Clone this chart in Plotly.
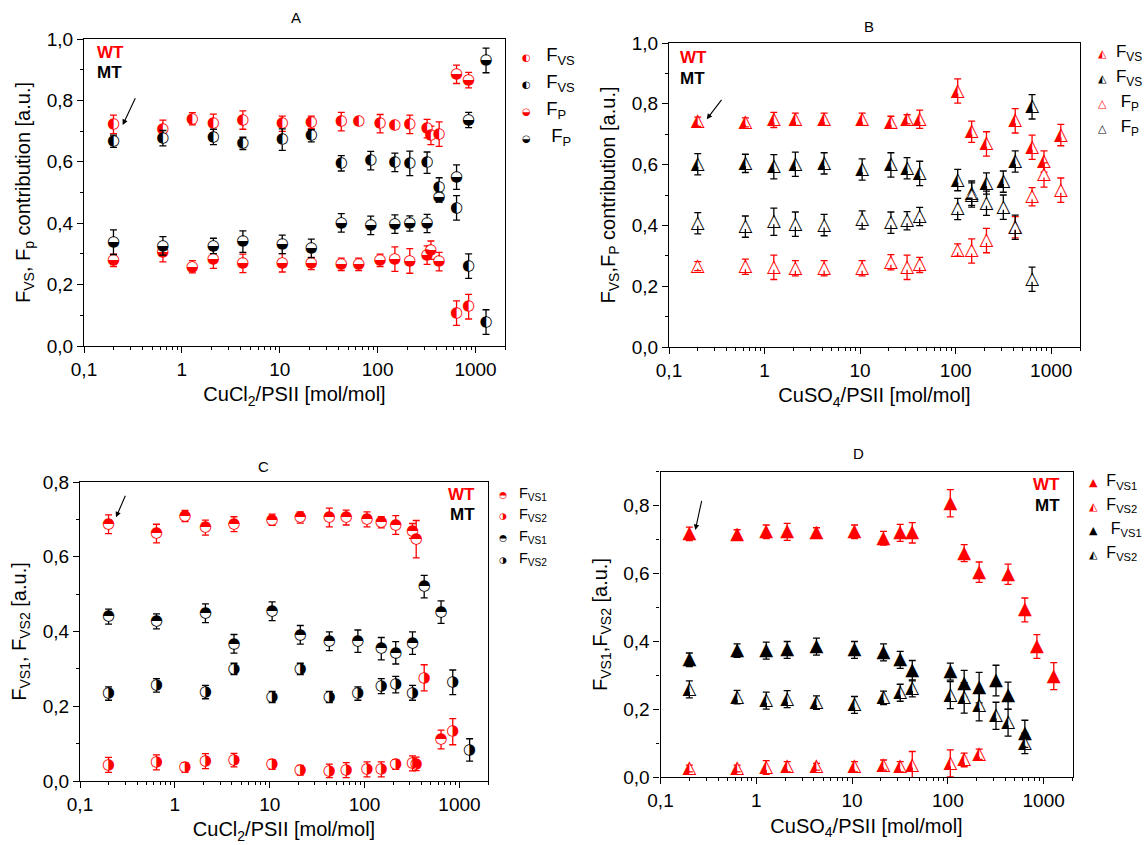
import plotly.graph_objects as go

W, H = 1146, 845
RED = "#ff0000"
BLK = "#000000"

# ---------------- Panel A (CuCl2, F_VS / F_P) ----------------
A_wt_x = [0.2, 0.64, 1.28, 2.1, 4.2, 10.6, 21, 42.5, 64, 106, 150, 213, 320, 350, 425, 640, 850]
A_wt_vs = [0.722, 0.706, 0.740, 0.725, 0.736, 0.724, 0.729, 0.731, 0.731, 0.724, 0.718, 0.722, 0.708, 0.686, 0.690, 0.107, 0.128]
A_wt_vs_err = [0.03, 0.03, 0.02, 0.03, 0.03, 0.025, 0.02, 0.03, 0.01, 0.03, 0.01, 0.03, 0.03, 0.03, 0.04, 0.04, 0.04]
A_wt_p = [0.279, 0.304, 0.258, 0.283, 0.269, 0.271, 0.269, 0.266, 0.266, 0.279, 0.283, 0.277, 0.296, 0.312, 0.275, 0.885, 0.866]
A_wt_p_err = [0.02, 0.03, 0.02, 0.03, 0.03, 0.03, 0.02, 0.02, 0.02, 0.02, 0.04, 0.04, 0.03, 0.03, 0.03, 0.03, 0.025]
A_mt_x = [0.2, 0.64, 2.1, 4.2, 10.6, 21, 42.5, 85, 150, 213, 320, 425, 640, 850, 1280]
A_mt_vs = [0.667, 0.677, 0.681, 0.660, 0.672, 0.685, 0.595, 0.604, 0.598, 0.595, 0.597, 0.518, 0.45, 0.26, 0.078]
A_mt_vs_err = [0.02, 0.025, 0.025, 0.02, 0.035, 0.02, 0.025, 0.03, 0.03, 0.04, 0.035, 0.03, 0.04, 0.04, 0.04]
A_mt_p = [0.338, 0.326, 0.326, 0.340, 0.331, 0.318, 0.401, 0.393, 0.397, 0.399, 0.399, 0.483, 0.55, 0.736, 0.93]
A_mt_p_err = [0.04, 0.03, 0.025, 0.035, 0.03, 0.03, 0.03, 0.03, 0.03, 0.025, 0.03, 0.015, 0.04, 0.025, 0.04]

# ---------------- Panel B (CuSO4, F_VS / F_P) ----------------
B_wt_x = [0.2, 0.63, 1.25, 2.1, 4.2, 10.5, 21, 31, 42, 105, 147, 210, 420, 630, 840, 1260]
B_wt_vs = [0.741, 0.739, 0.747, 0.749, 0.749, 0.749, 0.739, 0.749, 0.749, 0.842, 0.708, 0.668, 0.744, 0.657, 0.610, 0.697]
B_wt_vs_err = [0.015, 0.015, 0.025, 0.02, 0.02, 0.02, 0.02, 0.015, 0.03, 0.04, 0.035, 0.04, 0.04, 0.04, 0.035, 0.035]
B_wt_p = [0.266, 0.264, 0.262, 0.259, 0.259, 0.259, 0.279, 0.262, 0.270, 0.319, 0.316, 0.35, 0.394, 0.494, 0.566, 0.516]
B_wt_p_err = [0.015, 0.025, 0.04, 0.025, 0.025, 0.025, 0.025, 0.04, 0.025, 0.02, 0.04, 0.04, 0.035, 0.03, 0.04, 0.04]
B_mt_x = [0.2, 0.63, 1.25, 2.1, 4.2, 10.5, 21, 31, 42, 105, 147, 210, 315, 420, 630]
B_mt_vs = [0.601, 0.604, 0.593, 0.601, 0.604, 0.584, 0.599, 0.588, 0.571, 0.549, 0.506, 0.538, 0.544, 0.61, 0.79]
B_mt_vs_err = [0.035, 0.03, 0.04, 0.04, 0.035, 0.035, 0.04, 0.035, 0.04, 0.035, 0.04, 0.035, 0.035, 0.035, 0.04]
B_mt_p = [0.407, 0.396, 0.412, 0.404, 0.401, 0.418, 0.409, 0.415, 0.429, 0.454, 0.50, 0.473, 0.46, 0.394, 0.223]
B_mt_p_err = [0.035, 0.035, 0.045, 0.04, 0.035, 0.03, 0.035, 0.03, 0.03, 0.035, 0.04, 0.04, 0.04, 0.04, 0.04]

# ---------------- Panel C (CuCl2, F_VS1 / F_VS2) ----------------
C_wt_vs1_x = [0.2, 0.64, 1.28, 2.1, 4.2, 10.6, 21, 42.5, 64, 106, 150, 213, 320, 350, 640]
C_wt_vs1 = [0.687, 0.662, 0.709, 0.678, 0.687, 0.699, 0.705, 0.705, 0.705, 0.70, 0.692, 0.685, 0.669, 0.647, 0.111]
C_wt_vs1_err = [0.025, 0.025, 0.015, 0.02, 0.02, 0.015, 0.015, 0.025, 0.02, 0.02, 0.015, 0.025, 0.02, 0.05, 0.025]
C_wt_vs2_x = [0.2, 0.64, 1.28, 2.1, 4.2, 10.6, 21, 42.5, 64, 106, 150, 213, 320, 350, 425, 850]
C_wt_vs2 = [0.043, 0.05, 0.036, 0.053, 0.056, 0.044, 0.029, 0.027, 0.029, 0.031, 0.031, 0.044, 0.047, 0.046, 0.276, 0.132]
C_wt_vs2_err = [0.02, 0.02, 0.013, 0.02, 0.018, 0.013, 0.013, 0.018, 0.02, 0.02, 0.02, 0.013, 0.02, 0.018, 0.035, 0.035]
C_mt_vs1_x = [0.2, 0.64, 2.1, 4.2, 10.6, 21, 42.5, 85, 150, 213, 320, 425, 640]
C_mt_vs1 = [0.44, 0.427, 0.449, 0.367, 0.454, 0.391, 0.374, 0.374, 0.354, 0.343, 0.369, 0.52, 0.452]
C_mt_vs1_err = [0.02, 0.02, 0.025, 0.025, 0.025, 0.025, 0.025, 0.03, 0.03, 0.03, 0.03, 0.03, 0.03]
C_mt_vs2_x = [0.2, 0.64, 2.1, 4.2, 10.6, 21, 42.5, 85, 150, 213, 320, 850, 1280]
C_mt_vs2 = [0.234, 0.256, 0.238, 0.30, 0.225, 0.30, 0.225, 0.234, 0.254, 0.258, 0.236, 0.264, 0.083]
C_mt_vs2_err = [0.018, 0.018, 0.018, 0.015, 0.015, 0.015, 0.015, 0.018, 0.02, 0.022, 0.02, 0.033, 0.03]

# ---------------- Panel D (CuSO4, F_VS1 / F_VS2) ----------------
D_wt_vs1_x = [0.2, 0.63, 1.27, 2.1, 4.25, 10.6, 21.3, 31.8, 42.5, 106, 148, 212, 425, 636, 850, 1275]
D_wt_vs1 = [0.717, 0.714, 0.723, 0.723, 0.72, 0.723, 0.704, 0.72, 0.72, 0.807, 0.66, 0.604, 0.598, 0.493, 0.385, 0.298]
D_wt_vs1_err = [0.02, 0.015, 0.02, 0.025, 0.015, 0.02, 0.02, 0.025, 0.03, 0.04, 0.025, 0.03, 0.03, 0.035, 0.035, 0.04]
D_wt_vs2_x = [0.2, 0.63, 1.27, 2.1, 4.25, 10.6, 21.3, 31.8, 42.5, 106, 148, 212]
D_wt_vs2 = [0.026, 0.026, 0.029, 0.031, 0.031, 0.031, 0.036, 0.031, 0.036, 0.041, 0.051, 0.068]
D_wt_vs2_err = [0.01, 0.01, 0.02, 0.015, 0.01, 0.015, 0.015, 0.015, 0.04, 0.04, 0.02, 0.015]
D_mt_x = [0.2, 0.63, 1.27, 2.1, 4.25, 10.6, 21.3, 31.8, 42.5, 106, 148, 212, 318, 425, 636]
D_mt_vs1 = [0.346, 0.373, 0.373, 0.375, 0.385, 0.375, 0.368, 0.346, 0.314, 0.311, 0.275, 0.264, 0.285, 0.24, 0.128]
D_mt_vs1_err = [0.02, 0.02, 0.025, 0.025, 0.025, 0.025, 0.025, 0.025, 0.03, 0.025, 0.04, 0.045, 0.045, 0.04, 0.04]
D_mt_vs2 = [0.259, 0.236, 0.226, 0.23, 0.22, 0.213, 0.234, 0.249, 0.262, 0.242, 0.234, 0.211, 0.181, 0.161, 0.10]
D_mt_vs2_err = [0.025, 0.02, 0.025, 0.025, 0.02, 0.025, 0.02, 0.025, 0.025, 0.04, 0.045, 0.045, 0.04, 0.04, 0.03]

# tick labels
x_tickvals = [0.1, 1, 10, 100, 1000]
x_ticktext = ["0,1", "1", "10", "100", "1000"]
yAB_tickvals = [0, 0.2, 0.4, 0.6, 0.8, 1.0]
yAB_ticktext = ["0,0", "0,2", "0,4", "0,6", "0,8", "1,0"]
yCD_tickvals = [0, 0.2, 0.4, 0.6, 0.8]
yCD_ticktext = ["0,0", "0,2", "0,4", "0,6", "0,8"]

FONT = "Liberation Sans, Arial, DejaVu Sans, sans-serif"
GLYPH_FONT = "DejaVu Sans"

# half-filled symbols (glyphs)
G_LEFT = "\u25D0"      # circle, left half filled
G_RIGHT = "\u25D1"     # circle, right half filled
G_BOTTOM = "\u25D2"    # circle, lower half filled
G_TOP = "\u25D3"       # circle, upper half filled
T_LEFT = "\u25ED"      # triangle, left half filled
T_OPEN = "\u25B3"      # open triangle
T_FULL = "\u25B2"      # filled triangle


def px2x(p):
    return p / W


def px2y(p):
    return 1 - p / H


fig = go.Figure()


def add(x, y, err, color, glyph, ax, circle=True):
    fig.add_trace(go.Scatter(
        x=x, y=y, mode="markers+text", showlegend=False,
        xaxis="x" + ax, yaxis="y" + ax,
        text=[glyph] * len(x), textposition="middle center",
        textfont=dict(family=GLYPH_FONT, size=15 if circle else 18, color=color),
        marker=dict(symbol="circle" if circle else "triangle-up", size=10,
                    color="white", line=dict(width=0)),
        error_y=dict(type="data", array=err, color=color, thickness=1.3, width=3.5),
        hoverinfo="x+y",
    ))


def add_legend(glyph, color, label, ax, legend, fs, gap="   "):
    name = ("<span style='font-family:DejaVu Sans;font-size:%dpx;color:%s'>%s</span>%s%s"
            % (fs, color, glyph, gap, label))
    fig.add_trace(go.Scatter(
        x=[None], y=[None], mode="markers", name=name, legend=legend, legendgroup=name + legend,
        xaxis="x" + ax, yaxis="y" + ax,
        marker=dict(size=1, color="rgba(0,0,0,0)", opacity=0),
    ))


FVS = "F<sub>VS</sub>"
FP = "F<sub>P</sub>"
FVS1 = "F<sub>VS1</sub>"
FVS2 = "F<sub>VS2</sub>"

# Panel A: circles
add(A_wt_x, A_wt_vs, A_wt_vs_err, RED, G_LEFT, "")
add(A_mt_x, A_mt_vs, A_mt_vs_err, BLK, G_LEFT, "")
add(A_wt_x, A_wt_p, A_wt_p_err, RED, G_BOTTOM, "")
add(A_mt_x, A_mt_p, A_mt_p_err, BLK, G_BOTTOM, "")
add_legend(G_LEFT, RED, FVS, "", "legend", 10)
add_legend(G_LEFT, BLK, FVS, "", "legend", 10)
add_legend(G_BOTTOM, RED, FP, "", "legend", 10)
add_legend(G_BOTTOM, BLK, " " + FP, "", "legend", 10)

# Panel B: triangles
add(B_wt_x, B_wt_vs, B_wt_vs_err, RED, T_LEFT, "2", circle=False)
add(B_mt_x, B_mt_vs, B_mt_vs_err, BLK, T_LEFT, "2", circle=False)
add(B_wt_x, B_wt_p, B_wt_p_err, RED, T_OPEN, "2", circle=False)
add(B_mt_x, B_mt_p, B_mt_p_err, BLK, T_OPEN, "2", circle=False)
add_legend(T_LEFT, RED, FVS, "2", "legend2", 11, "  ")
add_legend(T_LEFT, BLK, FVS, "2", "legend2", 11, "  ")
add_legend(T_OPEN, RED, " " + FP, "2", "legend2", 11, "  ")
add_legend(T_OPEN, BLK, " " + FP, "2", "legend2", 11, "  ")

# Panel C: circles
add(C_wt_vs1_x, C_wt_vs1, C_wt_vs1_err, RED, G_TOP, "3")
add(C_wt_vs2_x, C_wt_vs2, C_wt_vs2_err, RED, G_RIGHT, "3")
add(C_mt_vs1_x, C_mt_vs1, C_mt_vs1_err, BLK, G_TOP, "3")
add(C_mt_vs2_x, C_mt_vs2, C_mt_vs2_err, BLK, G_RIGHT, "3")
add_legend(G_TOP, RED, FVS1, "3", "legend3", 9)
add_legend(G_RIGHT, RED, FVS2, "3", "legend3", 9)
add_legend(G_TOP, BLK, FVS1, "3", "legend3", 9)
add_legend(G_RIGHT, BLK, FVS2, "3", "legend3", 9)

# Panel D: triangles
add(D_wt_vs1_x, D_wt_vs1, D_wt_vs1_err, RED, T_FULL, "4", circle=False)
add(D_wt_vs2_x, D_wt_vs2, D_wt_vs2_err, RED, T_LEFT, "4", circle=False)
add(D_mt_x, D_mt_vs1, D_mt_vs1_err, BLK, T_FULL, "4", circle=False)
add(D_mt_x, D_mt_vs2, D_mt_vs2_err, BLK, T_LEFT, "4", circle=False)
add_legend(T_FULL, RED, FVS1, "4", "legend4", 11, "  ")
add_legend(T_LEFT, RED, FVS2, "4", "legend4", 11, "  ")
add_legend(T_FULL, BLK, FVS1, "4", "legend4", 11, "   ")
add_legend(T_LEFT, BLK, FVS2, "4", "legend4", 11, "  ")

# plot areas in pixels: (left, right, top, bottom)
areas = {
    "": (84, 505, 39, 346),
    "2": (669, 1080, 43, 347),
    "3": (80, 488, 482, 781),
    "4": (660.5, 1072.5, 471.7, 777.3),
}
xtitles = {"": "CuCl<sub>2</sub>/PSII [mol/mol]", "2": "CuSO<sub>4</sub>/PSII [mol/mol]",
           "3": "CuCl<sub>2</sub>/PSII [mol/mol]", "4": "CuSO<sub>4</sub>/PSII [mol/mol]"}
ytitles = {"": "F<sub>VS</sub>, F<sub>p</sub> contribution [a.u.]",
           "2": "F<sub>VS</sub>,F<sub>P</sub> contribution [a.u.]",
           "3": "F<sub>VS1</sub>, F<sub>VS2</sub> [a.u.]",
           "4": "F<sub>VS1</sub>,F<sub>VS2</sub> [a.u.]"}
yranges = {"": [0, 1.0], "2": [0, 1.0], "3": [0, 0.8], "4": [0, 0.9]}

layout = dict(
    width=W, height=H, margin=dict(l=0, r=0, t=0, b=0, autoexpand=False),
    paper_bgcolor="white", plot_bgcolor="white",
    font=dict(family=FONT, size=19, color="black"),
    showlegend=True,
)
for k, (l, r, t, b) in areas.items():
    xa = dict(
        type="log", range=[-1, 3.301], domain=[px2x(l), px2x(r)], anchor="y" + k,
        showline=True, linecolor="black", linewidth=1.3, mirror=True,
        ticks="outside", ticklen=6, tickwidth=1.2, tickcolor="black",
        tickvals=x_tickvals, ticktext=x_ticktext, showgrid=False, zeroline=False,
        minor=dict(ticks="outside", ticklen=3, tickwidth=1, tickcolor="black", dtick="D1", showgrid=False),
        tickfont=dict(size=19),
        title=dict(text=xtitles[k], font=dict(size=20), standoff=8),
    )
    yv = yAB_tickvals if k in ("", "2") else yCD_tickvals
    yt = yAB_ticktext if k in ("", "2") else yCD_ticktext
    ya = dict(
        range=yranges[k], domain=[px2y(b), px2y(t)], anchor="x" + k,
        showline=True, linecolor="black", linewidth=1.3, mirror=True,
        ticks="outside", ticklen=6, tickwidth=1.2, tickcolor="black",
        tickvals=yv, ticktext=yt, showgrid=False, zeroline=False,
        minor=dict(ticks="outside", ticklen=3, tickwidth=1, tickcolor="black", dtick=0.1, showgrid=False),
        tickfont=dict(size=19),
        title=dict(text=ytitles[k], font=dict(size=20), standoff=10),
    )
    layout["xaxis" + k] = xa
    layout["yaxis" + k] = ya


def leg(xpx, ypx, size):
    return dict(x=px2x(xpx), y=px2y(ypx), xanchor="left", yanchor="top",
                bgcolor="rgba(0,0,0,0)", font=dict(size=size, family=FONT),
                tracegroupgap=0, itemwidth=30)


layout["legend"] = leg(482, 35, 18.5)
layout["legend2"] = leg(1058, 33, 17)
layout["legend3"] = leg(459, 476, 14.5)
layout["legend4"] = leg(1049, 463, 16)

anns = []
# panel titles
for txt, xp, yp in [("A", 296, 18), ("B", 869, 27), ("C", 263, 466), ("D", 858, 453)]:
    anns.append(dict(text=txt, x=px2x(xp), y=px2y(yp), xref="paper", yref="paper",
                     showarrow=False, font=dict(size=15), xanchor="center", yanchor="middle"))
# WT / MT labels
for xp, yw, ym, anchor in [(95, 53, 73, "left"), (678, 57, 78, "left"),
                           (477, 494, 514, "right"), (1062, 484, 505, "right")]:
    anns.append(dict(text="<b>WT</b>", x=px2x(xp), y=px2y(yw), xref="paper", yref="paper",
                     showarrow=False, font=dict(size=17, color=RED), xanchor=anchor, yanchor="middle"))
    anns.append(dict(text="<b>MT</b>", x=px2x(xp), y=px2y(ym), xref="paper", yref="paper",
                     showarrow=False, font=dict(size=17, color=BLK), xanchor=anchor, yanchor="middle"))
# arrows (head, tail) in pixels
for (hx, hy), (tx, ty) in [((122.7, 125), (136, 96.7)), ((706.7, 119.3), (722.7, 98.3)),
                           ((116, 517.3), (126, 494.3)), ((695.3, 530), (702, 499.3))]:
    anns.append(dict(text="", x=px2x(hx), y=px2y(hy), xref="paper", yref="paper",
                     ax=tx - hx, ay=ty - hy, showarrow=True, arrowhead=2, arrowsize=1,
                     arrowwidth=1.1, arrowcolor="black"))
layout["annotations"] = anns

fig.update_layout(**layout)
fig.write_html("out.html")
